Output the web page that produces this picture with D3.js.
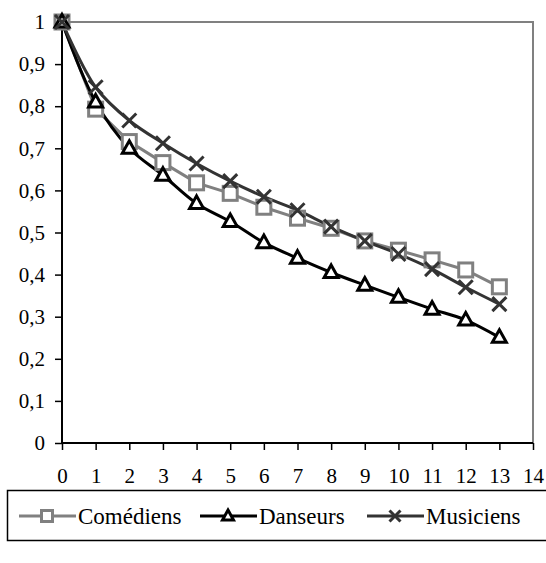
<!DOCTYPE html>
<html>
<head>
<meta charset="utf-8">
<script src="https://cdn.jsdelivr.net/npm/d3@7"></script>
<style>
  body { margin: 0; background: #fff; }
</style>
</head>
<body>
<div id="container"></div>
<script>
/* DATA */
const years = [0, 1, 2, 3, 4, 5, 6, 7, 8, 9, 10, 11, 12, 13];
const comediens = [1, 0.793, 0.716, 0.666, 0.618, 0.593, 0.56, 0.534, 0.51, 0.48, 0.458, 0.435, 0.411, 0.371];
const danseurs  = [1, 0.81, 0.70, 0.636, 0.569, 0.526, 0.476, 0.439, 0.405, 0.375, 0.346, 0.318, 0.292, 0.251];
const musiciens = [1, 0.845, 0.766, 0.712, 0.664, 0.622, 0.585, 0.553, 0.514, 0.48, 0.449, 0.413, 0.37, 0.33];
const xTicks = d3.range(0, 15);
const yTicks = d3.range(0, 11).map(d => d / 10);
const seriesNames = ["Comédiens", "Danseurs", "Musiciens"];

/* CONSTANTS */
const width = 546, height = 563;
const plotLeft = 62, plotRight = 533, plotTop = 22, plotBottom = 443;
const serif = "'Liberation Serif', 'Times New Roman', serif";

const svg = d3.select("#container").append("svg")
  .attr("width", width)
  .attr("height", height);

/* SCALES */
const xScale = d3.scaleLinear().domain([0, 14]).range([plotLeft, plotRight]);
const yScale = d3.scaleLinear().domain([0, 1]).range([plotBottom, plotTop]);

// plot frame (grey top / right)
svg.append("path")
  .attr("d", `M${plotLeft},${plotTop}H${plotRight}V${plotBottom}`)
  .attr("fill", "none")
  .attr("stroke", "#808080")
  .attr("stroke-width", 2);

/* AXES */
const fmt = d => d === 0 ? "0" : d === 1 ? "1" : d3.format(".1f")(d).replace(".", ",");

const yAxis = svg.append("g")
  .attr("transform", `translate(${plotLeft},0)`)
  .call(d3.axisLeft(yScale).tickValues(yTicks).tickFormat(fmt).tickSize(7).tickPadding(10));

const xAxis = svg.append("g")
  .attr("transform", `translate(0,${plotBottom})`)
  .call(d3.axisBottom(xScale).tickValues(xTicks).tickFormat(d3.format("d")).tickSize(7).tickPadding(18));

[xAxis, yAxis].forEach(g => {
  g.attr("font-family", null).attr("font-size", null);
  g.select(".domain").attr("stroke", "#000").attr("stroke-width", 2);
  g.selectAll(".tick line").attr("stroke", "#000").attr("stroke-width", 1.5);
  g.selectAll(".tick text")
    .attr("fill", "#000")
    .style("font-family", serif)
    .style("font-size", "21px");
});
xAxis.select(".domain").attr("d", `M${plotLeft},0H${plotRight}`);
yAxis.select(".domain").attr("d", `M0,${plotBottom}V${plotTop}`);

/* SERIES */
const series = [
  { name: seriesNames[0], values: comediens, color: "#808080", marker: "square", curve: d3.curveLinear },
  { name: seriesNames[1], values: danseurs, color: "#000000", marker: "triangle", curve: d3.curveCatmullRom },
  { name: seriesNames[2], values: musiciens, color: "#333333", marker: "cross", curve: d3.curveCatmullRom }
];

function drawMarker(g, type, color, s) {
  if (type === "square") {
    g.append("rect")
      .attr("x", -s / 2).attr("y", -s / 2).attr("width", s).attr("height", s)
      .attr("fill", "#fff").attr("stroke", color).attr("stroke-width", 3);
  } else if (type === "triangle") {
    const h = s * 0.9;
    g.append("path")
      .attr("d", `M0,${-h * 0.6}L${s / 2},${h * 0.4}L${-s / 2},${h * 0.4}Z`)
      .attr("fill", "#fff").attr("stroke", color).attr("stroke-width", 3)
      .attr("stroke-linejoin", "miter");
  } else {
    const r = s / 2;
    g.append("path")
      .attr("d", `M${-r},${-r}L${r},${r}M${-r},${r}L${r},${-r}`)
      .attr("stroke", color).attr("stroke-width", 3);
  }
}

series.forEach(s => {
  const line = d3.line()
    .x((d, i) => xScale(years[i]))
    .y(d => yScale(d))
    .curve(s.curve);

  svg.append("path")
    .datum(s.values)
    .attr("d", line)
    .attr("fill", "none")
    .attr("stroke", s.color)
    .attr("stroke-width", 3);
});

series.forEach(s => {
  s.values.forEach((v, i) => {
    const g = svg.append("g").attr("transform", `translate(${xScale(years[i])},${yScale(v)})`);
    drawMarker(g, s.marker, s.color, 14);
  });
});

/* LEGEND */
const legend = svg.append("g");
legend.append("rect")
  .attr("x", 7.5).attr("y", 490.5)
  .attr("width", 560).attr("height", 50)
  .attr("fill", "#fff")
  .attr("stroke", "#000")
  .attr("stroke-width", 1.5);

const legendX = [19, 200, 367];
series.forEach((s, i) => {
  const g = legend.append("g").attr("transform", `translate(${legendX[i]},516)`);
  g.append("line")
    .attr("x1", 0).attr("x2", 57)
    .attr("stroke", s.color).attr("stroke-width", 3);
  const m = g.append("g").attr("transform", "translate(28,0)");
  drawMarker(m, s.marker, s.color, 11);
  g.append("text")
    .attr("x", 59).attr("y", 8)
    .style("font-family", serif)
    .style("font-size", "23px")
    .attr("fill", "#000")
    .text(s.name);
});
</script>
</body>
</html>
